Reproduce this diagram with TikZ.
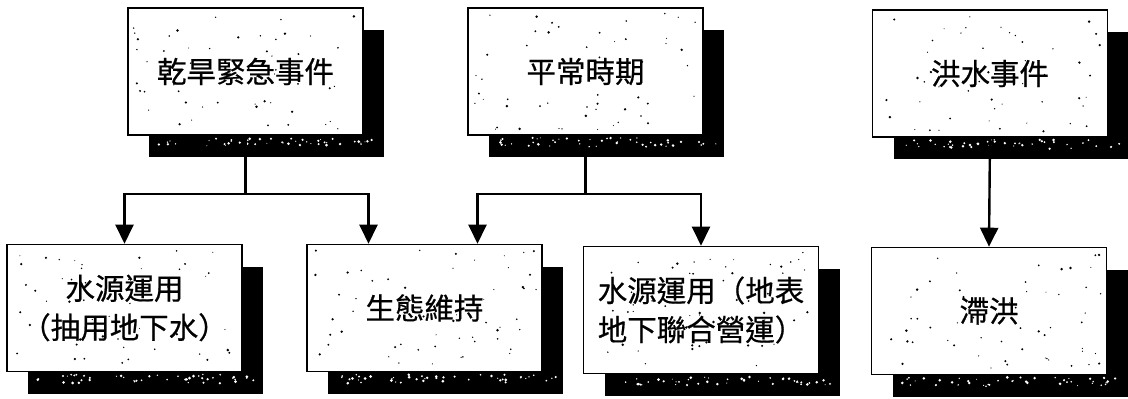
\documentclass[tikz,border=0pt]{standalone}
\usepackage{fontspec}
\newfontfamily\cjk[FakeBold=0.6]{Noto Sans CJK TC}
\usetikzlibrary{arrows.meta,shadows}
\tikzset{
  box/.style={draw=black, line width=1.6pt, fill=white, minimum width=235pt, minimum height=127pt,
    inner sep=0pt, align=center, font=\cjk\fontsize{29.5}{39}\selectfont,
    drop shadow={shadow xshift=21pt, shadow yshift=-22pt, fill=black, opacity=1}},
  conn/.style={line width=2.4pt, draw=black},
  arr/.style={conn, -{Triangle[width=18pt,length=19pt]}},
  speck/.style={fill=black},
  wspeck/.style={fill=white},
}
\begin{document}
\begin{tikzpicture}[x=1pt,y=-1pt]
\useasboundingbox (0,0) rectangle (1128,399);
\pgfmathsetseed{11}
\node[box] (t1) at (245.5,71.5) {乾旱緊急事件};
\node[box] (t2) at (585.5,71.5) {平常時期};
\node[box] (t3) at (990,73.5) {洪水事件};
\node[box] (b1) at (124.5,308) {水源運用\\（抽用地下水）};
\node[box] (b2) at (424.5,308) {生態維持};
\node[box] (b3) at (701,310) {水源運用（地表\\地下聯合營運）};
\node[box] (b4) at (989,311) {滯洪};
\foreach \n in {t1,t2,t3,b1,b2,b3,b4}{
  \foreach \i in {1,...,55}{
    \pgfmathsetmacro\rx{rnd*224-112}
    \pgfmathsetmacro\ry{rnd*116-58}
    \pgfmathsetmacro\rr{0.5+rnd*0.9}
    \fill[speck] ([shift={(\rx pt,\ry pt)}]\n.center) circle (\rr pt);
  }
  \foreach \i in {1,...,45}{
    \pgfmathsetmacro\rx{rnd*220-88}
    \pgfmathsetmacro\ry{rnd*9+2}
    \pgfmathsetmacro\rr{0.5+rnd*1.0}
    \fill[wspeck] ([shift={(\rx pt,-\ry pt)}]\n.south) circle (\rr pt);
  }
}
\coordinate (j1) at (245.5,194);
\coordinate (j2) at (585.5,194);
\draw[conn] (t1.south) -- (j1);
\draw[arr] (j1) -| (b1.north);
\draw[arr] (j1) -| ([xshift=-56pt]b2.north);
\draw[conn] (t2.south) -- (j2);
\draw[arr] (j2) -| ([xshift=53pt]b2.north);
\draw[arr] (j2) -| (b3.north);
\draw[arr] (t3.south) -- (b4.north);
\end{tikzpicture}
\end{document}
